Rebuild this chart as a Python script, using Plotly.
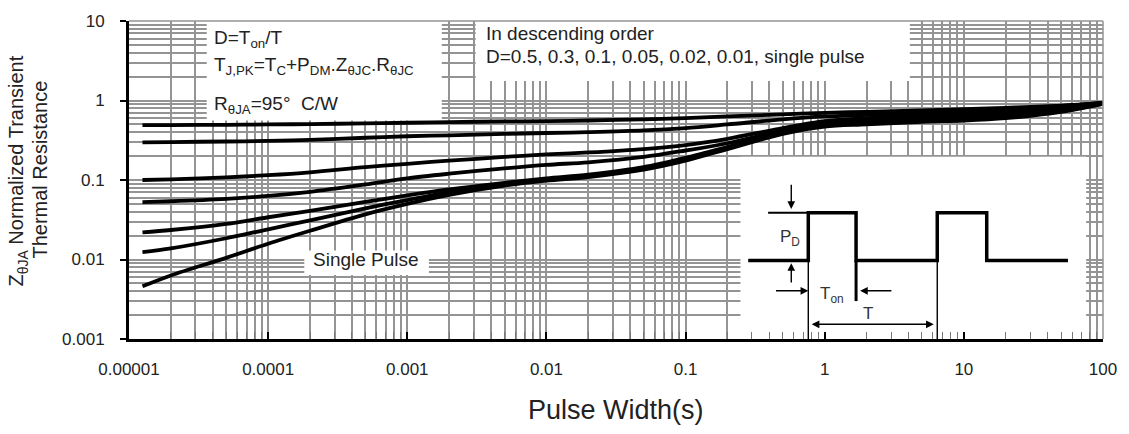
import math
import plotly.graph_objects as go

# ---------------------------------------------------------------- data
pulse_width = [1.25e-5, 2e-5, 5e-5, 1e-4, 2e-4, 5e-4, 1e-3, 2e-3, 5e-3, 1e-2,
               2e-2, 5e-2, 0.1, 0.2, 0.5, 1, 2, 5, 10, 20, 50, 100]

z_d050 = [0.49, 0.49, 0.495, 0.50, 0.505, 0.515, 0.525, 0.535, 0.545, 0.55, 0.56,
          0.58, 0.60, 0.63, 0.67, 0.70, 0.72, 0.75, 0.78, 0.81, 0.86, 0.93]
z_d030 = [0.297, 0.30, 0.305, 0.31, 0.32, 0.34, 0.355, 0.365, 0.38, 0.39, 0.40,
          0.42, 0.45, 0.50, 0.58, 0.63, 0.66, 0.70, 0.74, 0.78, 0.85, 0.93]
z_d010 = [0.10, 0.102, 0.108, 0.115, 0.125, 0.145, 0.16, 0.175, 0.195, 0.21, 0.222,
          0.245, 0.275, 0.33, 0.45, 0.55, 0.60, 0.65, 0.69, 0.74, 0.83, 0.93]
z_d005 = [0.0526, 0.054, 0.058, 0.063, 0.071, 0.088, 0.105, 0.12, 0.14, 0.155, 0.167,
          0.195, 0.235, 0.29, 0.42, 0.52, 0.57, 0.61, 0.65, 0.70, 0.80, 0.93]
z_d002 = [0.022, 0.0235, 0.028, 0.034, 0.041, 0.053, 0.064, 0.076, 0.092, 0.105, 0.117,
          0.145, 0.19, 0.26, 0.40, 0.50, 0.54, 0.58, 0.62, 0.66, 0.77, 0.92]
z_d001 = [0.0124, 0.0138, 0.0185, 0.024, 0.031, 0.044, 0.056, 0.07, 0.088, 0.102, 0.112,
          0.14, 0.18, 0.25, 0.39, 0.49, 0.52, 0.56, 0.59, 0.63, 0.74, 0.91]
z_single = [0.0046, 0.0063, 0.0105, 0.0158, 0.023, 0.037, 0.05, 0.065, 0.085, 0.098, 0.109,
            0.135, 0.175, 0.245, 0.38, 0.47, 0.50, 0.54, 0.56, 0.60, 0.72, 0.91]

series_names = ["D=0.5", "D=0.3", "D=0.1", "D=0.05", "D=0.02", "D=0.01", "single pulse"]
series_values = [z_d050, z_d030, z_d010, z_d005, z_d002, z_d001, z_single]

x_tick_vals = [1e-5, 1e-4, 1e-3, 1e-2, 1e-1, 1, 10, 100]
x_tick_text = ["0.00001", "0.0001", "0.001", "0.01", "0.1", "1", "10", "100"]
y_tick_vals = [0.001, 0.01, 0.1, 1, 10]
y_tick_text = ["0.001", "0.01", "0.1", "1", "10"]

# white note panels: (t_min, t_max, z_min, z_max) in axis units
panel_formula = (3.62e-5, 1.77e-3, 0.561, 10)
panel_order = (3.10e-3, 4.09, 1.757, 10)
panel_single = (1.82e-4, 1.43e-3, 0.00638, 0.0130)
panel_inset = (0.248, 75.7, 0.001, 0.1954)

# duty-cycle sketch (inset): waveform, guides and arrows, in axis units
wave_t = [0.282, 0.762, 0.762, 1.68, 1.68, 6.44, 6.44, 14.6, 14.6, 56]
wave_p = [0.0097, 0.0097, 0.0388, 0.0388, 0.0097, 0.0097, 0.0388, 0.0388, 0.0097, 0.0097]
peak_ref_t = [0.392, 0.762]
peak_ref_p = [0.0388, 0.0388]
on_edge_t = [0.762, 0.762]
period_edge_t = [6.44, 6.44]
edge_p = [0.0097, 0.001]
ton_mark_t = [1.68, 1.68]
ton_mark_p = [0.0097, 0.003]

FONT = "Liberation Sans, Arial, sans-serif"
GRID = "#949494"


def minor_vals(lo_exp, hi_exp):
    vals = []
    for e in range(lo_exp, hi_exp):
        for k in range(2, 10):
            vals.append(k * 10 ** e)
    return vals


fig = go.Figure()

# panels first so they hide the grid but stay under the curves
for t0, t1, z0, z1 in [panel_formula, panel_order, panel_single, panel_inset]:
    fig.add_trace(go.Scatter(
        x=[t0, t1, t1, t0, t0], y=[z0, z0, z1, z1, z0], mode="lines",
        fill="toself", fillcolor="white", line=dict(width=0, color="white"),
        showlegend=False, hoverinfo="skip"))

for name, vals in zip(series_names, series_values):
    fig.add_trace(go.Scatter(
        x=pulse_width, y=vals, name=name, mode="lines",
        line=dict(color="black", width=3.8, shape="spline", smoothing=0.9),
        showlegend=False, hoverinfo="skip"))

# inset waveform
fig.add_trace(go.Scatter(x=wave_t, y=wave_p, mode="lines",
                         line=dict(color="black", width=3.5),
                         showlegend=False, hoverinfo="skip"))
for tx, py, w in [(peak_ref_t, peak_ref_p, 2.0), (on_edge_t, edge_p, 1.4),
                  (period_edge_t, edge_p, 1.4), (ton_mark_t, ton_mark_p, 3.0)]:
    fig.add_trace(go.Scatter(x=tx, y=py, mode="lines",
                             line=dict(color="black", width=w),
                             showlegend=False, hoverinfo="skip"))

L = math.log10


def arrow(tail, head, both=False):
    fig.add_annotation(x=L(head[0]), y=L(head[1]), ax=L(tail[0]), ay=L(tail[1]),
                       xref="x", yref="y", axref="x", ayref="y", text="",
                       showarrow=True, arrowhead=2, arrowsize=1.1, arrowwidth=1.4,
                       arrowcolor="black", standoff=0, startstandoff=0,
                       startarrowhead=2, startarrowsize=1.1,
                       arrowside="end+start" if both else "end")


arrow((0.575, 0.0912), (0.575, 0.0431))
arrow((0.575, 0.00493), (0.575, 0.009))
arrow((0.4355, 0.00404), (0.762, 0.00404))
arrow((3.09, 0.00404), (1.795, 0.00404))
arrow((0.786, 0.00153), (6.08, 0.00153), both=True)

for txt, tx, py in [("P<sub>D</sub>", 0.56, 0.0189), ("T<sub>on</sub>", 1.13, 0.0036),
                    ("T", 2.06, 0.0021)]:
    fig.add_annotation(x=L(tx), y=L(py), xref="x", yref="y", text=txt,
                       showarrow=False, font=dict(family=FONT, size=17, color="#333"))

# light frame on top and right
fig.add_shape(type="line", xref="paper", yref="paper", x0=0, x1=1, y0=1, y1=1,
              line=dict(color=GRID, width=1.5), layer="above")
fig.add_shape(type="line", xref="paper", yref="paper", x0=1, x1=1, y0=0, y1=1,
              line=dict(color=GRID, width=1.5), layer="above")

notes = [
    ("D=T<sub>on</sub>/T", 0.0849, 0.942),
    ("T<sub>J,PK</sub>=T<sub>C</sub>+P<sub>DM</sub>.Z<sub>θJC</sub>.R<sub>θJC</sub>", 0.0849, 0.859),
    ("R<sub>θJA</sub>=95°\u00a0\u00a0C/W", 0.0849, 0.737),
    ("In descending order", 0.364, 0.962),
    ("D=0.5, 0.3, 0.1, 0.05, 0.02, 0.01, single pulse", 0.364, 0.887),
    ("Single Pulse", 0.1871, 0.2508),
]
for txt, px, py in notes:
    fig.add_annotation(x=px, y=py, xref="paper", yref="paper", text=txt,
                       xanchor="left", yanchor="middle", showarrow=False,
                       font=dict(family=FONT, size=19, color="#222"))

# axis titles
fig.add_annotation(x=-0.1145, y=0.528, xref="paper", yref="paper",
                   text="Z<sub>θJA</sub> Normalized Transient",
                   textangle=-90, showarrow=False, xanchor="center", yanchor="middle",
                   font=dict(family=FONT, size=20, color="#222"))
fig.add_annotation(x=-0.091, y=0.534, xref="paper", yref="paper",
                   text="Thermal Resistance",
                   textangle=-90, showarrow=False, xanchor="center", yanchor="middle",
                   font=dict(family=FONT, size=20, color="#222"))
fig.add_annotation(x=0.5, y=-0.223, xref="paper", yref="paper", text="Pulse Width(s)",
                   showarrow=False, xanchor="center", yanchor="middle",
                   font=dict(family=FONT, size=27, color="#222"))

fig.update_xaxes(
    type="log", range=[-5, 2], showline=True, linecolor="black", linewidth=3,
    tickmode="array", tickvals=x_tick_vals, ticktext=x_tick_text,
    ticks="inside", ticklen=7, tickwidth=2, tickcolor="black",
    showgrid=True, gridcolor=GRID, gridwidth=1.7, zeroline=False,
    tickfont=dict(family=FONT, size=17, color="#222"), ticklabelstandoff=13,
    minor=dict(tickmode="array", tickvals=minor_vals(-5, 2), showgrid=True,
               gridcolor=GRID, gridwidth=1.7, ticks="inside", ticklen=7,
               tickwidth=1.4, tickcolor="#777"),
)
fig.update_yaxes(
    type="log", range=[-3, 1], showline=True, linecolor="black", linewidth=3,
    tickmode="array", tickvals=y_tick_vals, ticktext=y_tick_text,
    ticks="outside", ticklen=6, tickwidth=2, tickcolor="black",
    showgrid=True, gridcolor=GRID, gridwidth=1.7, zeroline=False,
    tickfont=dict(family=FONT, size=17, color="#222"), ticklabelstandoff=12,
    minor=dict(tickmode="array", tickvals=minor_vals(-3, 1), showgrid=True,
               gridcolor=GRID, gridwidth=1.7, ticks=""),
)

fig.update_layout(
    width=1129, height=434, margin=dict(l=129, r=22, t=16, b=95),
    plot_bgcolor="white", paper_bgcolor="white", showlegend=False,
)

fig.write_html("out.html", config={"displayModeBar": False})
